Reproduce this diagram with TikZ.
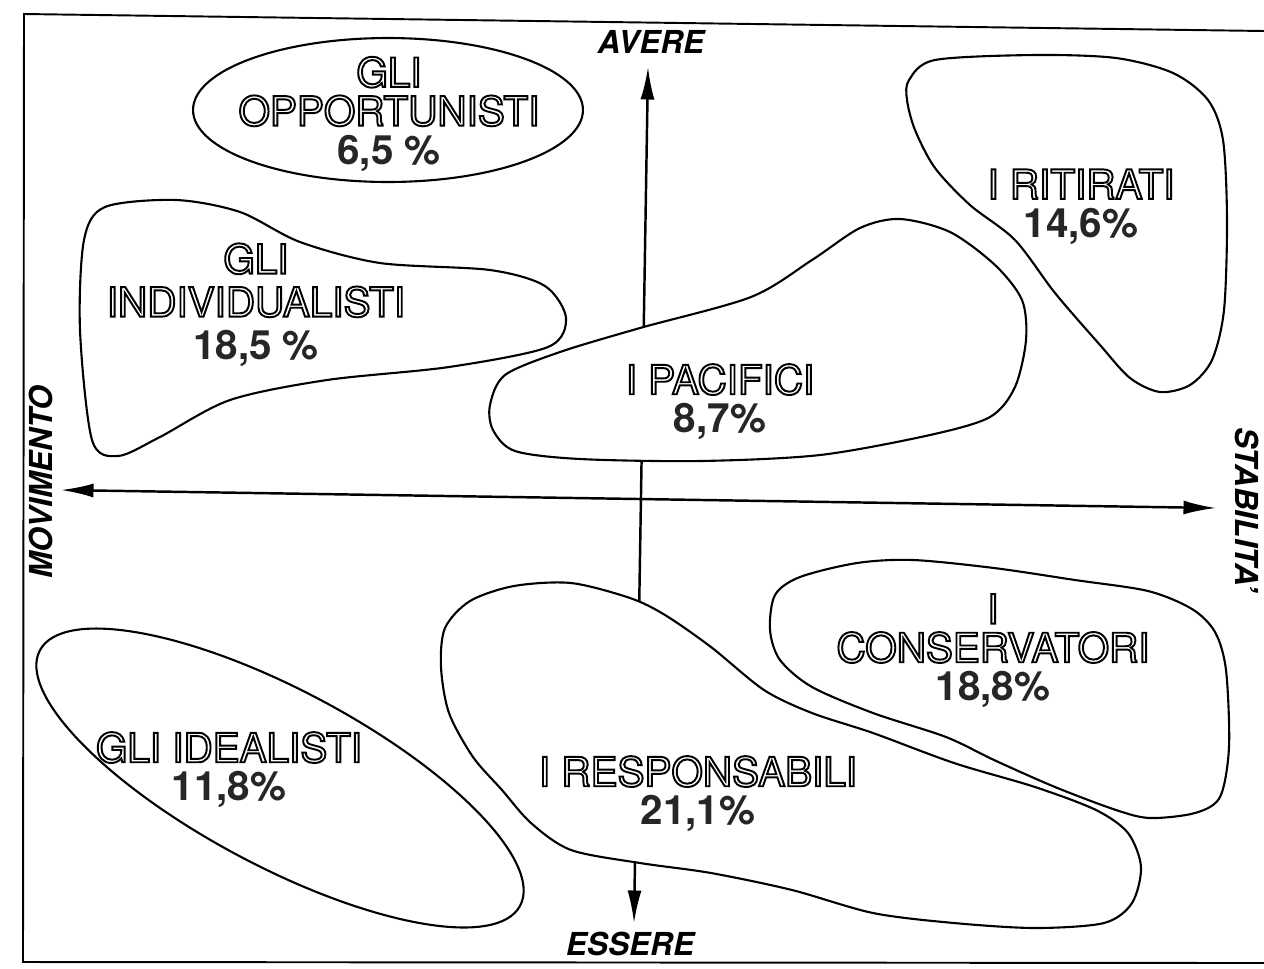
\documentclass[tikz,border=0pt]{standalone}
\usepackage{fontspec}
\setmainfont{TeX Gyre Heros}
\usepackage{tikz}
\usetikzlibrary{arrows.meta}
\newcommand{\outl}[1]{\special{pdf:literal direct 1 Tr 1.1 w}#1\special{pdf:literal direct 0 Tr}}
\newcommand{\pct}[1]{{\bfseries\color{black!85}#1}}
\tikzset{
  blob/.style={draw,fill=white,line width=1.2pt},
  group label/.style={align=center,inner sep=0pt,font=\fontsize{23}{22}\selectfont},
  axis label/.style={inner sep=0pt,font=\fontsize{18}{18}\selectfont\bfseries\itshape},
  axis line/.style={{Latex[length=6.5mm,width=2.8mm]}-{Latex[length=6.5mm,width=2.8mm]},line width=1.4pt}
}

\begin{document}
\begin{tikzpicture}[x=0.02cm,y=-0.02cm]
  \useasboundingbox (0,0) rectangle (1264,968);

  % frame
  \draw[line width=1.1pt] (1264,31) -- (24,14) -- (23,962) -- (1264,963);

  % axes
  \coordinate (avere tip) at (648,67);
  \coordinate (essere tip) at (634,923);
  \coordinate (mov tip) at (61,490);
  \coordinate (stab tip) at (1216,508);
  \draw[axis line] (essere tip) -- (avere tip);
  \draw[axis line] (mov tip) -- (stab tip);

  \node[axis label] (avere) at (651,42) {AVERE};
  \node[axis label] (essere) at (630,944) {ESSERE};
  \node[axis label,rotate=90] (movimento) at (41,482) {MOVIMENTO};
  \node[axis label,rotate=-90] (stabilita) at (1247,510) {STABILITA'};

  % groups
  \draw[blob] (388,110) ellipse [x radius=3.9cm, y radius=1.44cm];
  \draw[blob] plot[smooth cycle] coordinates {(80,330) (84,240) (105,207) (176,200)
    (240,212) (300,242) (380,263) (490,270) (545,286) (566,318) (548,347) (449,367)
    (327,380) (230,400) (160,437) (118,456) (92,440)};
  \draw[blob] plot[smooth cycle] coordinates {(490,405) (505,375) (560,352) (640,328)
    (751,297) (812,260) (860,228) (900,219) (950,232) (995,265) (1022,300) (1026,340)
    (1015,387) (990,417) (930,435) (820,455) (700,461) (580,459) (515,451) (493,430)};
  \draw[blob] plot[smooth cycle] coordinates {(909,80) (935,60) (1035,55) (1116,58)
    (1173,73) (1208,100) (1223,140) (1227,220) (1224,310) (1212,360) (1190,385)
    (1160,392) (1130,378) (1100,345) (1055,293) (1015,240) (970,205) (935,168)
    (915,130) (907,100)};
  \draw[blob] plot[smooth cycle] coordinates {(770,630) (775,595) (800,577) (857,563)
    (913,560) (994,568) (1075,580) (1148,591) (1192,609) (1215,632) (1226,670)
    (1229,747) (1220,797) (1195,813) (1150,818) (1116,810) (1055,787) (994,760)
    (946,737) (873,713) (812,687) (780,660)};
  \draw[blob] plot[smooth cycle] coordinates {(441,667) (445,628) (470,601) (514,586)
    (571,583) (630,598) (665,615) (711,647) (764,690) (812,713) (873,733) (954,763)
    (1035,787) (1096,810) (1128,833) (1141,867) (1132,903) (1104,923) (1035,928)
    (954,923) (873,913) (792,890) (711,873) (640,863) (571,850) (531,823) (502,790)
    (473,757) (449,713)};
  \draw[blob,rotate around={-28:(280,778)}] (280,778) ellipse [x radius=5.44cm, y radius=1.76cm];

  \node[group label] (opportunisti) at (389,114) {\outl{GLI}\\\outl{OPPORTUNISTI}\\\pct{6,5 \%}};
  \node[group label,font=\fontsize{23}{24.5}\selectfont] (individualisti) at (256,305) {\outl{GLI}\\\outl{INDIVIDUALISTI}\\\pct{18,5 \%}};
  \node[group label] (pacifici) at (720,402) {\outl{I PACIFICI}\\\pct{8,7\%}};
  \node[group label] (ritirati) at (1081,207) {\outl{I RITIRATI}\\\pct{14,6\%}};
  \node[group label] (conservatori) at (993,651) {\outl{I}\\\outl{CONSERVATORI}\\\pct{18,8\%}};
  \node[group label] (responsabili) at (698,794) {\outl{I RESPONSABILI}\\\pct{21,1\%}};
  \node[group label] (idealisti) at (229,770) {\outl{GLI IDEALISTI}\\\pct{11,8\%}};
\end{tikzpicture}
\end{document}
